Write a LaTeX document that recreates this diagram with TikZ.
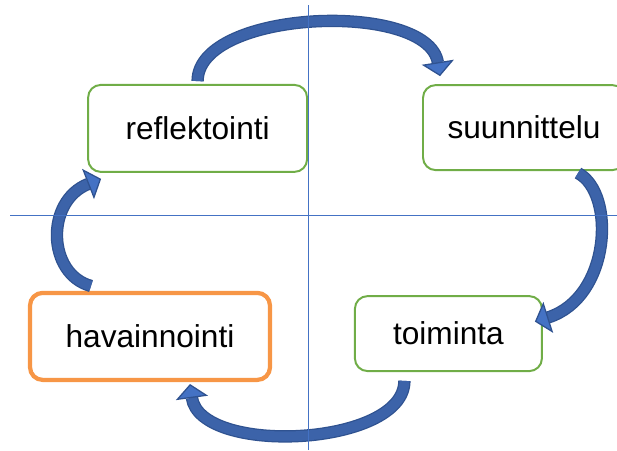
\documentclass[tikz,border=0pt]{standalone}
\usepackage{fontspec}
\setmainfont{Liberation Sans}
\usetikzlibrary{arrows.meta}

\definecolor{axisblue}{HTML}{4472C4}
\definecolor{arrowblue}{HTML}{4472C4}
\definecolor{shaftblue}{HTML}{3C63A9}
\definecolor{arrowdark}{HTML}{2F5290}
\definecolor{boxgreen}{HTML}{70AD47}
\definecolor{boxorange}{HTML}{F79646}

\tikzset{
  phase/.style = {draw=boxgreen, line width=1.4pt, rounded corners=9pt, fill=white,
                  font=\fontsize{22.5}{27}\selectfont},
  current/.style = {phase, draw=boxorange, line width=3pt},
  turn/.style = {draw=arrowdark, double=shaftblue, line width=0.9pt, double distance=7pt,
                 -{Triangle[width=23pt,length=10pt,fill=arrowblue,line width=0.9pt]}},
}

\begin{document}
\begin{tikzpicture}
  \useasboundingbox (0,0) rectangle (15.425,11.25);

  \node[phase, minimum width=5.475cm, minimum height=2.175cm] (reflektointi) at (4.94,8.04) {reflektointi};
  \node[phase, minimum width=5.05cm, minimum height=2.125cm] (suunnittelu) at (13.1,8.06) {suunnittelu};
  \node[phase, minimum width=4.675cm, minimum height=1.875cm] (toiminta) at (11.21,2.91) {toiminta};
  \node[current, minimum width=6.0cm, minimum height=2.175cm] (havainnointi) at (3.75,2.84) {havainnointi};

  % kierron nuolet
  \draw[turn] ([yshift=2pt]reflektointi.north) .. controls +(0,1.8) and +(-0.3,1.9) .. ([shift={(0.45,0.2)}]suunnittelu.north west);
  \draw[turn] ([shift={(-1.2,-0.05)}]suunnittelu.south east) .. controls +(0.95,-0.5) and +(1.9,0.6) .. ([shift={(-0.2,0.3)}]toiminta.east);
  \draw[turn] ([shift={(-1.1,-0.22)}]toiminta.south) .. controls +(0,-1.65) and +(0.25,-1.8) .. ([shift={(1.0,-0.05)}]havainnointi.south);
  \draw[turn] ([shift={(-1.475,0.12)}]havainnointi.north) .. controls +(-1.1,0.3) and +(-1.4,-0.55) .. ([shift={(0.35,-0.15)}]reflektointi.south west);

  % akselit
  \draw[axisblue, line width=0.7pt]
    (7.7,0) -- (7.7,11.125)
    (0.25,5.875) -- (15.425,5.875);
\end{tikzpicture}
\end{document}
